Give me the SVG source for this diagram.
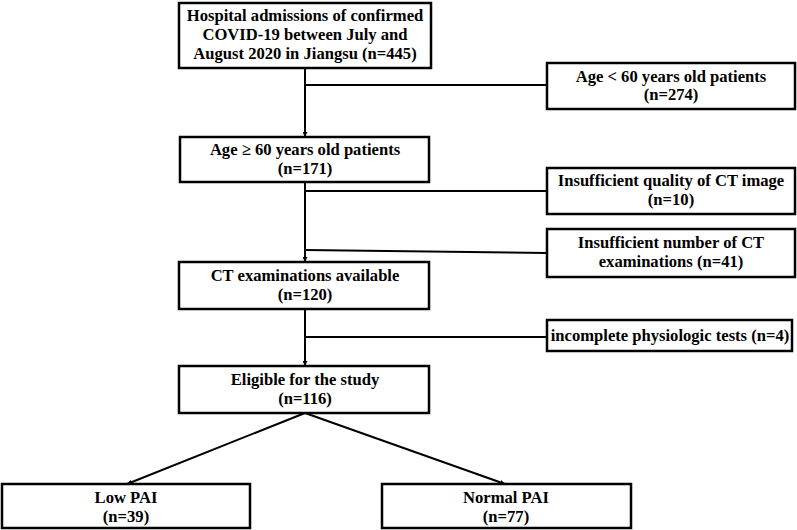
<svg xmlns="http://www.w3.org/2000/svg" width="797" height="530" viewBox="0 0 797 530">
<defs>
<marker id="ah" viewBox="0 0 10 10" refX="10" refY="5" markerWidth="5" markerHeight="5" orient="auto" markerUnits="userSpaceOnUse">
<path d="M0,0 L10,5 L0,10 z" fill="#000"/>
</marker>
<style>
.box{fill:#fff;stroke:#000;stroke-width:2.5}
.t{font-family:"Liberation Serif","Times New Roman",serif;font-weight:bold;font-size:16.6px;fill:#000;text-anchor:middle}
.c{stroke:#000;stroke-width:2;fill:none}
</style>
</defs>
<rect width="797" height="530" fill="#fff"/>
<g id="connectors">
<line class="c" x1="305" y1="68" x2="305" y2="137" marker-end="url(#ah)"/>
<line class="c" x1="305" y1="85" x2="547" y2="85"/>
<line class="c" x1="305" y1="182" x2="305" y2="262" marker-end="url(#ah)"/>
<line class="c" x1="305" y1="191" x2="547" y2="191"/>
<line class="c" x1="305" y1="250" x2="547" y2="253"/>
<line class="c" x1="305" y1="309" x2="305" y2="366" marker-end="url(#ah)"/>
<line class="c" x1="305" y1="337" x2="547" y2="337"/>
<line class="c" x1="305" y1="413" x2="127" y2="484" marker-end="url(#ah)"/>
<line class="c" x1="305" y1="413" x2="505" y2="484" marker-end="url(#ah)"/>
</g>
<g id="n1">
<rect class="box" x="179" y="3" width="252" height="65"/>
<text class="t" x="305" y="21">Hospital admissions of confirmed</text>
<text class="t" x="305" y="40">COVID-19 between July and</text>
<text class="t" x="305" y="59">August 2020 in Jiangsu (n=445)</text>
</g>
<g id="n2">
<rect class="box" x="547" y="63" width="248" height="46"/>
<text class="t" x="671" y="82">Age &lt; 60 years old patients</text>
<text class="t" x="671" y="100">(n=274)</text>
</g>
<g id="n3">
<rect class="box" x="180" y="137" width="249" height="45"/>
<text class="t" x="305" y="155">Age ≥ 60 years old patients</text>
<text class="t" x="305" y="174">(n=171)</text>
</g>
<g id="n4">
<rect class="box" x="547" y="168" width="248" height="46"/>
<text class="t" x="671" y="186">Insufficient quality of CT image</text>
<text class="t" x="671" y="205">(n=10)</text>
</g>
<g id="n5">
<rect class="box" x="547" y="229" width="248" height="48"/>
<text class="t" x="671" y="248">Insufficient number of CT</text>
<text class="t" x="671" y="267">examinations (n=41)</text>
</g>
<g id="n6">
<rect class="box" x="179" y="262" width="250" height="47"/>
<text class="t" x="305" y="281">CT examinations available</text>
<text class="t" x="305" y="300">(n=120)</text>
</g>
<g id="n7">
<rect class="box" x="547" y="320" width="245" height="31"/>
<text class="t" x="670" y="341">incomplete physiologic tests (n=4)</text>
</g>
<g id="n8">
<rect class="box" x="179" y="366" width="250" height="47"/>
<text class="t" x="305" y="385">Eligible for the study</text>
<text class="t" x="305" y="404">(n=116)</text>
</g>
<g id="n9">
<rect class="box" x="2" y="484" width="248" height="44"/>
<text class="t" x="126" y="503">Low PAI</text>
<text class="t" x="126" y="522">(n=39)</text>
</g>
<g id="n10">
<rect class="box" x="382" y="484" width="249" height="44"/>
<text class="t" x="506" y="503">Normal PAI</text>
<text class="t" x="506" y="522">(n=77)</text>
</g>
</svg>
